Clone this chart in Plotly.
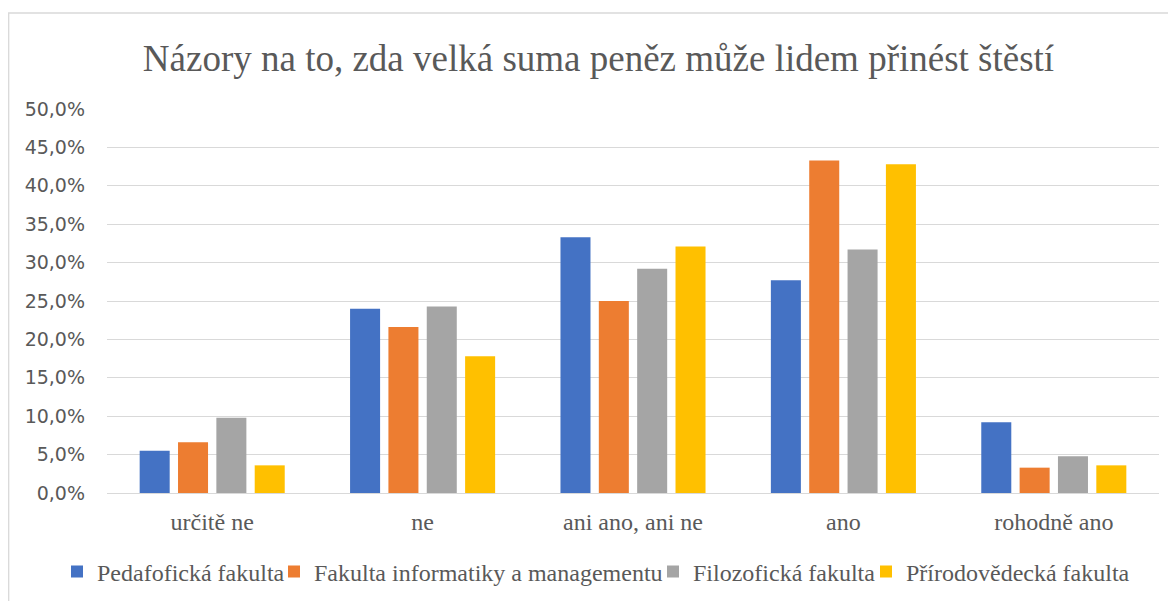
import plotly.graph_objects as go

# odpovědi
categories = ["určitě ne", "ne", "ani ano, ani ne", "ano", "rohodně ano"]

pedagogicka = [0.055, 0.240, 0.333, 0.277, 0.092]
informatika = [0.066, 0.216, 0.250, 0.433, 0.033]
filozoficka = [0.098, 0.243, 0.292, 0.317, 0.048]
prirodovedecka = [0.036, 0.178, 0.321, 0.428, 0.036]

series_names = ["Pedafofická fakulta", "Fakulta informatiky a managementu",
                "Filozofická fakulta", "Přírodovědecká fakulta"]
colors = ["#4472C4", "#ED7D31", "#A5A5A5", "#FFC000"]

# stranka ma okraj 8px, proto je vse posunute
OFF = 8
W, H = 1176 - OFF, 601 - OFF
L, R, T, B = 107 - OFF, W - (1159 - OFF), 109 - OFF, H - (493 - OFF)
pw, ph = W - L - R, H - T - B

def px(x):
  return (x - OFF - L) / pw

def py(y):
  return (H - B - (y - OFF)) / ph

SERIF = "Liberation Serif, Times New Roman, serif"
GREY = "#595959"

legend_ids = ["legend", "legend2", "legend3", "legend4"]
legend_left = [57, 274, 653, 866]  # px na obrazovce, kazda polozka legendy zvlast

fig = go.Figure()
for name, vals, col, lid in zip(series_names,
                                [pedagogicka, informatika, filozoficka, prirodovedecka],
                                colors, legend_ids):
  fig.add_trace(go.Bar(x=categories, y=vals, name=name, legend=lid,
                       marker=dict(color=col, line=dict(width=0))))

# ramecek grafu (jen horni a leva hrana je videt)
fig.add_shape(type="rect", xref="paper", yref="paper",
              x0=-L / pw + 0.7 / pw, x1=(W + 10 - L) / pw,
              y0=py(640), y1=py(13),
              line=dict(color="#D9D9D9", width=1.3), fillcolor="rgba(0,0,0,0)", layer="below")

legends = {}
for lid, lx in zip(legend_ids, legend_left):
  legends[lid] = dict(orientation="h", x=px(lx), xanchor="left",
                      y=py(572), yanchor="middle",
                      bgcolor="rgba(0,0,0,0)", borderwidth=0,
                      font=dict(family=SERIF, size=24, color=GREY))

fig.update_layout(
  width=W, height=H,
  margin=dict(l=L, r=R, t=T, b=B, autoexpand=False),
  paper_bgcolor="white", plot_bgcolor="white",
  separators=", ",
  barmode="group", bargap=0.271, bargroupgap=0.217,
  title=dict(text="Názory na to, zda velká suma peněz může lidem přinést štěstí",
             x=(598.5 - OFF) / W, xanchor="center", y=1 - (58 - OFF) / H, yanchor="middle",
             font=dict(family=SERIF, size=37, color=GREY)),
  xaxis=dict(showgrid=False, showline=False, ticks="", ticklabelstandoff=12,
             tickfont=dict(family=SERIF, size=24, color=GREY)),
  yaxis=dict(range=[0, 0.5], dtick=0.05, tickformat=".1%",
             showgrid=True, gridcolor="#D9D9D9", gridwidth=1.3,
             zeroline=True, zerolinecolor="#D9D9D9", zerolinewidth=1.3,
             showline=False, ticks="", ticklabelstandoff=21,
             tickfont=dict(family="DejaVu Sans", size=19, color=GREY)),
  showlegend=True,
  **legends,
)

fig.write_html("out.html")
